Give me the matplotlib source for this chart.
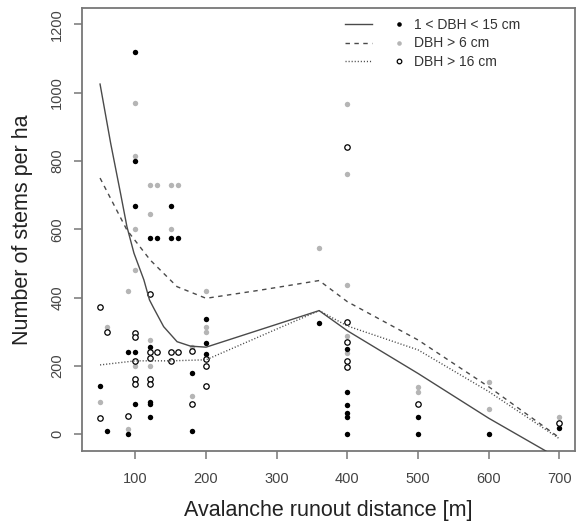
import matplotlib
matplotlib.use("Agg")
import matplotlib.pyplot as plt
from matplotlib.lines import Line2D
from matplotlib.legend_handler import HandlerTuple

plt.rcParams['font.family'] = ['Liberation Sans', 'DejaVu Sans']

# scatter data: x = runout distance [m], y = stems per ha
small_x = [50, 60, 90, 90, 100, 100, 100, 100, 100, 120, 120, 120, 120, 120,
           130, 150, 150, 160, 180, 180, 200, 200, 200, 360,
           400, 400, 400, 400, 400, 400, 500, 500, 600, 700]
small_y = [141, 10, 240, 0, 1120, 800, 669, 240, 88, 575, 255, 95, 88, 50,
           575, 669, 575, 575, 180, 10, 337, 268, 234, 327,
           250, 125, 86, 62, 52, 0, 52, 0, 0, 17]

mid_x = [50, 60, 90, 90, 100, 100, 100, 100, 100, 120, 120, 120, 120,
         130, 150, 150, 160, 180, 180, 200, 200, 200, 360,
         400, 400, 400, 400, 400, 500, 500, 600, 600, 700]
mid_y = [95, 313, 420, 15, 970, 815, 601, 480, 200, 729, 646, 276, 200,
         729, 729, 601, 729, 256, 112, 420, 315, 298, 545,
         967, 762, 436, 288, 238, 139, 125, 154, 75, 52]

big_x = [50, 50, 60, 90, 100, 100, 100, 100, 100, 120, 120, 120, 120, 120,
         130, 150, 150, 160, 180, 180, 200, 200, 200,
         400, 400, 400, 400, 400, 500, 700]
big_y = [373, 47, 298, 55, 296, 284, 214, 162, 147, 412, 240, 224, 163, 148,
         240, 240, 215, 240, 245, 89, 220, 200, 141,
         840, 330, 271, 215, 196, 88, 34]

# fitted curves
fit_small_x = [50, 65, 79, 88, 98, 112, 120, 126, 140, 159, 178, 200, 360, 400, 500, 600, 680, 700]
fit_small_y = [1025, 852, 705, 608, 530, 452, 393, 369, 315, 271, 258, 255, 362, 303, 178, 47, -48, -72]
fit_mid_x = [50, 88, 121, 159, 200, 277, 360, 400, 500, 600, 700]
fit_mid_y = [750, 598, 510, 432, 398, 422, 450, 388, 276, 139, -10]
fit_big_x = [50, 100, 150, 200, 360, 400, 500, 600, 700]
fit_big_y = [203, 215, 215, 218, 362, 317, 247, 125, -13]

labels = ["1 < DBH < 15 cm", "DBH > 6 cm", "DBH > 16 cm"]

fig = plt.figure(figsize=(5.76, 5.22), dpi=100)
ax = fig.add_axes([0.1418, 0.1366, 0.8564, 0.8483])

ms = 3.9
ax.plot(mid_x, mid_y, 'o', color='#b5b5b5', ms=ms, mec='none', zorder=2)
ax.plot(small_x, small_y, 'o', color='black', ms=ms, mec='none', zorder=3)
ax.plot(big_x, big_y, 'o', mfc='white', mec='black', ms=ms, mew=0.9, zorder=4)

lc = '#4a4a4a'
l1, = ax.plot(fit_small_x, fit_small_y, '-', color=lc, lw=1.0, zorder=5)
l2, = ax.plot(fit_mid_x, fit_mid_y, color=lc, lw=1.0, dashes=(3.2, 3.2), zorder=5)
l3, = ax.plot(fit_big_x, fit_big_y, color=lc, lw=1.0, dashes=(0.8, 1.4), zorder=5)

ax.set_xlim(24, 722)
ax.set_ylim(-48, 1248)
ax.set_xticks([100, 200, 300, 400, 500, 600, 700])
ax.set_yticks([0, 200, 400, 600, 800, 1000, 1200])

for s in ax.spines.values():
    s.set_color('#777777')
    s.set_linewidth(1.3)
ax.tick_params(direction='out', length=5.5, width=1.1, color='#777777',
               labelcolor='#444444', labelsize=10.5)
ax.tick_params(axis='x', pad=10)
ax.tick_params(axis='y', pad=7)
for t in ax.get_yticklabels():
    t.set_rotation(90)
    t.set_va('center')

ax.set_xlabel("Avalanche runout distance [m]", fontsize=15.5, color='#222222')
ax.xaxis.set_label_coords(0.5, -0.136)
ax.xaxis.label.set_va('center')
ax.set_ylabel("Number of stems per ha", fontsize=15.5, color='#222222')
ax.yaxis.set_label_coords(-0.119, 0.5)
ax.yaxis.label.set_va('center')

m1 = Line2D([], [], ls='none', marker='o', color='black', ms=3.3, mec='none')
m2 = Line2D([], [], ls='none', marker='o', color='#b5b5b5', ms=3.3, mec='none')
m3 = Line2D([], [], ls='none', marker='o', mfc='white', mec='black', ms=3.3, mew=0.9)
leg = ax.legend([(l1, m1), (l2, m2), (l3, m3)], labels,
                handler_map={tuple: HandlerTuple(ndivide=None, pad=0.9)},
                loc='upper left', bbox_to_anchor=(0.533, 0.978), frameon=False,
                fontsize=10, handlelength=4.9, handletextpad=0.1,
                borderpad=0, borderaxespad=0, labelspacing=0.35, numpoints=1)
for t in leg.get_texts():
    t.set_color('#333333')

fig.savefig("out.png", dpi=100)
